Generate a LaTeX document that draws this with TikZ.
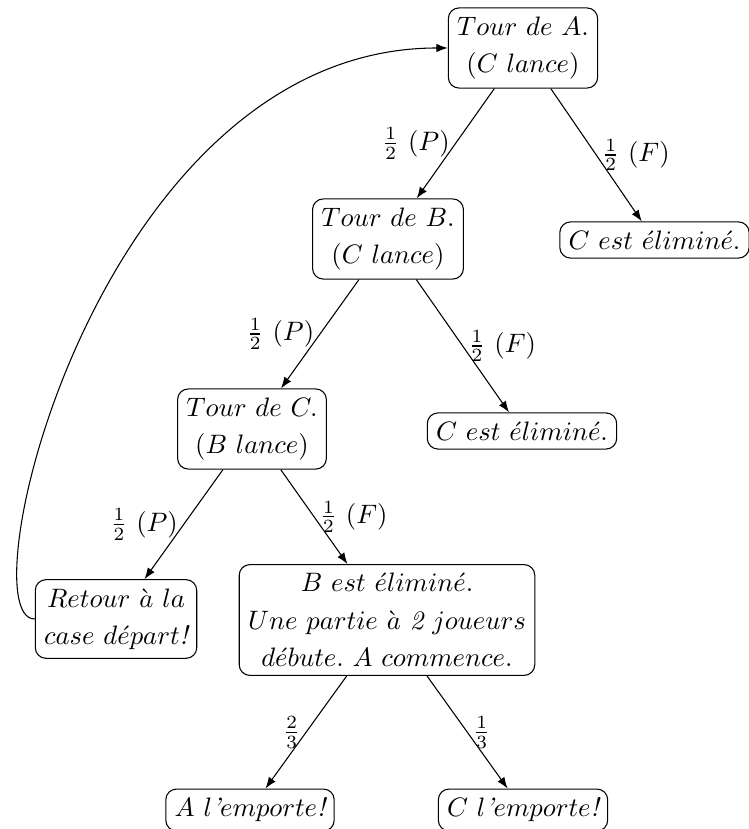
\documentclass[tikz,border=0pt]{standalone}
\usepackage{amsmath,amssymb}
\usetikzlibrary{arrows.meta,positioning,calc}
\tikzset{
  >={Latex[length=1.5mm,width=1.1mm]},
  tbox/.style={draw,rounded corners=4pt,line width=0.4pt,inner sep=3.3pt,align=center,
    font=\fontsize{10}{14}\selectfont},
  arr/.style={->,line width=0.4pt},
  plab/.style={font=\normalsize,inner sep=2pt},
}
\newcommand{\ea}{\acute{e}}
\newcommand{\ag}{\grave{a}}

\begin{document}
\begin{tikzpicture}[x=0.375pt,y=-0.375pt]
\useasboundingbox (0,0) rectangle (748,829);
% les noeuds
\node[tbox] (tA) at (523,48) {$Tour\ de\ A.$\\$(C\ lance)$};
\node[tbox] (tB) at (388,239) {$Tour\ de\ B.$\\$(C\ lance)$};
\node[tbox] (elimA) at (654.5,240) {$C\ est\ \ea limin\ea.$};
\node[tbox] (tC) at (252,429) {$Tour\ de\ C.$\\$(B\ lance)$};
\node[tbox] (elimB) at (522,431) {$C\ est\ \ea limin\ea.$};
\node[tbox] (ret) at (116,619) {$Retour\ \ag\ la$\\$case\ d\ea part\textit{!}$};
\node[tbox] (bel) at (387,620) {$B\ est\ \ea limin\ea.$\\$Une\ partie\ \ag\ \textit{2}\ joueurs$\\$d\ea but e.\ A\ commence.$};
\node[tbox] (winA) at (250,810) {$A\ l\textit{'}emporte\textit{!}$};
\node[tbox] (winC) at (523,810) {$C\ l\textit{'}emporte\textit{!}$};
% les branches
\draw[arr] (tA) -- node[plab,left] {$\frac{1}{2}\ (P)$} (tB);
\draw[arr] (tA) -- node[plab,right] {$\frac{1}{2}\ (F)$} (elimA);
\draw[arr] (tB) -- node[plab,left] {$\frac{1}{2}\ (P)$} (tC);
\draw[arr] (tB) -- node[plab,right] {$\frac{1}{2}\ (F)$} (elimB);
\draw[arr] (tC) -- node[plab,left] {$\frac{1}{2}\ (P)$} (ret);
\draw[arr] (tC) -- node[plab,right] {$\frac{1}{2}\ (F)$} (bel);
\draw[arr] (bel) -- node[plab,left] {$\frac{2}{3}$} (winA);
\draw[arr] (bel) -- node[plab,right] {$\frac{1}{3}$} (winC);
% retour au debut
\draw[arr] (ret.west) .. controls +(-70,0) and +(-350,0) .. (tA.west);
\end{tikzpicture}
\end{document}
